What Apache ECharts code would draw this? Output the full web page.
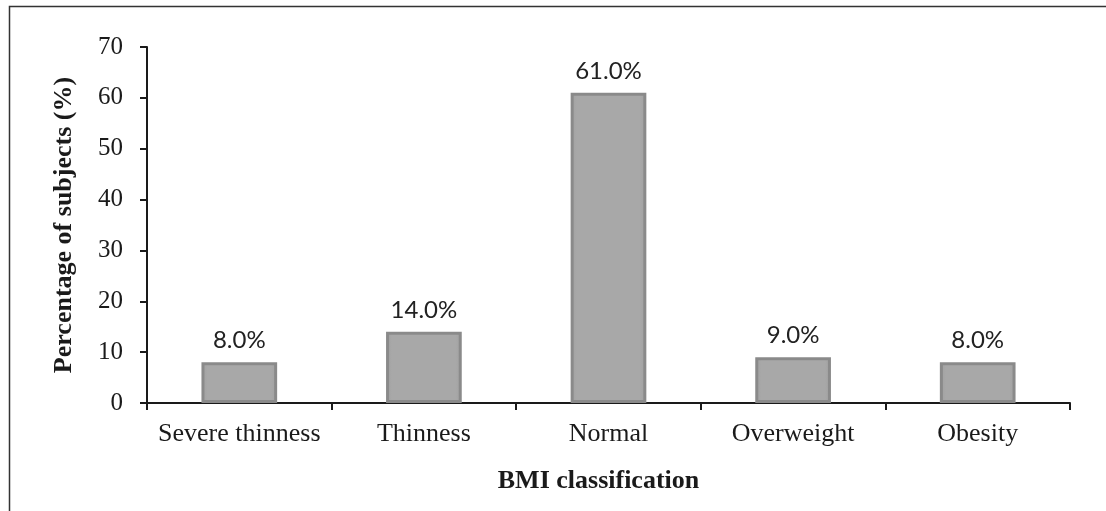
<!DOCTYPE html>
<html>
<head>
<meta charset="utf-8">
<script src="https://cdn.jsdelivr.net/npm/echarts@6/dist/echarts.min.js"></script>
<style>html,body{margin:0;padding:0;background:#fff;}#c{width:1106px;height:511px;}</style>
</head>
<body>
<div id="c"></div>
<script>
var categories = ['Severe thinness', 'Thinness', 'Normal', 'Overweight', 'Obesity'];
var values = [8.0, 14.0, 61.0, 9.0, 8.0];
var yTicks = [0, 10, 20, 30, 40, 50, 60, 70];

var chart = echarts.init(document.getElementById('c'));
chart.setOption({
  animation: false,
  backgroundColor: '#fff',
  graphic: [{
    type: 'rect',
    shape: { x: 9.5, y: 6.5, width: 1200, height: 600 },
    style: { fill: 'none', stroke: '#333', lineWidth: 1.5 },
    silent: true
  }],
  grid: { left: 147, right: 36, top: 47, bottom: 108 },
  xAxis: {
    type: 'category',
    data: categories,
    name: 'BMI classification',
    nameLocation: 'middle',
    nameGap: 65,
    nameTextStyle: { fontFamily: 'Liberation Serif', fontWeight: 'bold', fontSize: 26, color: '#1a1a1a', padding: [0, 20, 0, 0] },
    axisLine: { lineStyle: { color: '#1a1a1a', width: 2 } },
    axisTick: { show: true, interval: 0, alignWithLabel: false, length: 7, lineStyle: { color: '#1a1a1a', width: 2 } },
    axisLabel: { interval: 0, hideOverlap: false, fontFamily: 'Liberation Serif', fontSize: 26, color: '#1a1a1a', margin: 18 }
  },
  yAxis: {
    type: 'value',
    min: 0,
    max: 70,
    interval: 10,
    name: 'Percentage of subjects (%)',
    nameLocation: 'middle',
    nameGap: 70,
    nameRotate: 90,
    nameTextStyle: { fontFamily: 'Liberation Serif', fontWeight: 'bold', fontSize: 26, color: '#1a1a1a' },
    axisLine: { show: true, lineStyle: { color: '#1a1a1a', width: 2 } },
    axisTick: { show: true, length: 7, lineStyle: { color: '#1a1a1a', width: 2 } },
    axisLabel: {
      fontFamily: 'Liberation Serif', fontSize: 25, color: '#1a1a1a', margin: 24,
      formatter: function (v) { return yTicks.indexOf(v) >= 0 ? String(v) : ''; }
    },
    splitLine: { show: false }
  },
  series: [{
    type: 'bar',
    data: values,
    barWidth: '41%',
    itemStyle: {
      color: new echarts.graphic.LinearGradient(0, 0, 1, 0, [
        { offset: 0, color: '#a0a0a0' },
        { offset: 0.08, color: '#a8a8a8' },
        { offset: 0.92, color: '#a8a8a8' },
        { offset: 1, color: '#a0a0a0' }
      ]),
      borderColor: '#8a8a8a',
      borderWidth: 3
    },
    label: {
      show: true,
      position: 'top',
      distance: 10,
      fontFamily: 'Lato',
      fontSize: 24,
      color: '#222',
      formatter: function (p) { return p.value.toFixed(1) + '%'; }
    }
  }]
});
</script>
</body>
</html>
